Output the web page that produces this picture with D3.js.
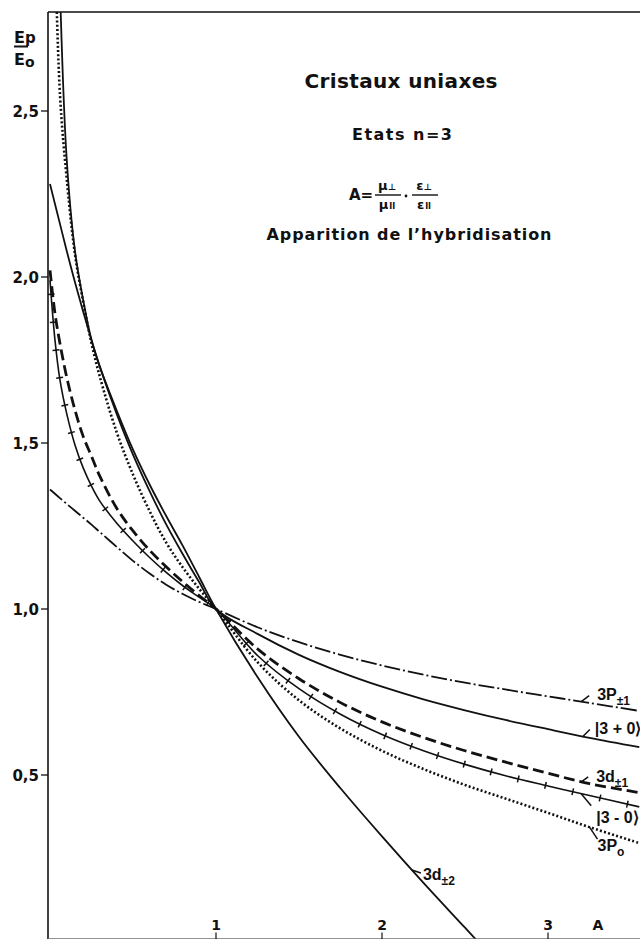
<!DOCTYPE html>
<html><head><meta charset="utf-8">
<script src="https://cdn.jsdelivr.net/npm/d3@7"></script>
<style>body{margin:0;background:#fff} svg{display:block}</style>
</head><body>
<svg id="c" width="640" height="939"></svg>
<script>
// ---- data ----
const aValues = [0, 0.03, 0.06, 0.1, 0.15, 0.2, 0.25, 0.3, 0.4, 0.5, 0.6, 0.7, 0.8, 0.9, 1, 1.25, 1.5, 1.75, 2, 2.25, 2.5, 2.75, 3, 3.25, 3.55];
const p1Values    = [1.36,1.347,1.334,1.317,1.296,1.275,1.254,1.232,1.188,1.145,1.107,1.073,1.045,1.021,1, 0.945,0.9,0.862,0.83,0.802,0.778,0.757,0.737,0.717,0.693];
const plus0Values = [2.28,2.22,2.16,2.08,1.985,1.895,1.81,1.73,1.59,1.465,1.355,1.255,1.165,1.08,1, 0.925,0.862,0.81,0.766,0.728,0.695,0.665,0.638,0.612,0.584];
const d1Values    = [2.02,1.89,1.8,1.7,1.6,1.52,1.46,1.4,1.305,1.235,1.177,1.127,1.082,1.04,1, 0.88,0.79,0.718,0.66,0.613,0.573,0.538,0.505,0.474,0.447];
const minus0Values= [1.99,1.81,1.69,1.59,1.495,1.425,1.37,1.325,1.26,1.205,1.155,1.11,1.07,1.035,1, 0.86,0.76,0.683,0.622,0.573,0.532,0.497,0.467,0.438,0.404];
const p0Values    = [null,3.0,2.55,2.3,2.07,1.925,1.8,1.7,1.535,1.405,1.295,1.2,1.125,1.06,1, 0.84,0.725,0.64,0.573,0.518,0.47,0.428,0.386,0.343,0.295];
const d2Values    = [null,3.6,2.87,2.36,2.08,1.93,1.81,1.73,1.6,1.48,1.375,1.28,1.19,1.095,1, 0.795,0.615,0.46,0.315,0.175,0.04,-0.095,null,null,null];
const yTicks = [0.5, 1.0, 1.5, 2.0, 2.5];
const yTickLabels = ["0,5", "1,0", "1,5", "2,0", "2,5"];
const xTicks = [1, 2, 3];
const xTickLabels = ["1", "2", "3"];

const series = [
  {name:"p1", values:p1Values, style:"dashdot", label:"3P", sub:"±1", at:3.2},
  {name:"plus0", values:plus0Values, style:"solid", label:"|3 + 0⟩", sub:"", at:3.21},
  {name:"d1", values:d1Values, style:"dashed", label:"3d", sub:"±1", at:3.2},
  {name:"minus0", values:minus0Values, style:"ticked", label:"|3 - 0⟩", sub:"", at:3.2},
  {name:"p0", values:p0Values, style:"dotted", label:"3P", sub:"o", at:3.25},
  {name:"d2", values:d2Values, style:"solid", label:"3d", sub:"±2", at:2.18}
];

// ---- layout ----
const W = 640, H = 939;
const x = d3.scaleLinear().domain([0, 1]).range([50, 216]);
const y = d3.scaleLinear().domain([0, 1]).range([941, 609]);
const axisX = 48, topY = 12, botY = 938.5;
const F = "'Liberation Sans', Arial, sans-serif";
const FD = "'DejaVu Sans', sans-serif";

const svg = d3.select("#c");
svg.append("rect").attr("width", W).attr("height", H).attr("fill", "#fff");

svg.append("defs").append("clipPath").attr("id", "plot")
  .append("rect").attr("x", axisX).attr("y", topY).attr("width", W - axisX).attr("height", botY - topY);

// frame lines
svg.append("line").attr("x1", axisX).attr("x2", axisX).attr("y1", topY).attr("y2", H)
  .attr("stroke", "#111").attr("stroke-width", 1.6);
svg.append("line").attr("x1", axisX).attr("x2", W).attr("y1", topY).attr("y2", topY)
  .attr("stroke", "#111").attr("stroke-width", 1.6);
svg.append("line").attr("x1", axisX).attr("x2", W).attr("y1", botY).attr("y2", botY)
  .attr("stroke", "#777").attr("stroke-width", 0.8);

// y ticks
yTicks.forEach((t, i) => {
  svg.append("line").attr("x1", axisX - 7).attr("x2", axisX).attr("y1", y(t)).attr("y2", y(t))
    .attr("stroke", "#111").attr("stroke-width", 1.3);
  svg.append("text").attr("x", axisX - 9).attr("y", y(t) + 5.5).attr("text-anchor", "end")
    .attr("font-family", FD).attr("font-weight", "bold").attr("font-size", 15).attr("fill", "#111")
    .text(yTickLabels[i]);
});
// x ticks
xTicks.forEach((t, i) => {
  svg.append("line").attr("x1", x(t)).attr("x2", x(t)).attr("y1", botY - 6).attr("y2", H)
    .attr("stroke", "#111").attr("stroke-width", 1.2);
  svg.append("text").attr("x", x(t)).attr("y", 930).attr("text-anchor", "middle")
    .attr("font-family", FD).attr("font-weight", "bold").attr("font-size", 14).attr("fill", "#111")
    .text(xTickLabels[i]);
});
svg.append("text").attr("x", 598).attr("y", 930).attr("text-anchor", "middle")
  .attr("font-family", FD).attr("font-weight", "bold").attr("font-size", 14).attr("fill", "#111").text("A");

// y axis title Ep / Eo
const yt = svg.append("g").attr("font-family", FD).attr("font-weight", "bold").attr("fill", "#111");
yt.append("text").attr("x", 14).attr("y", 43).attr("font-size", 16).text("E")
  .append("tspan").attr("font-size", 15).text("p");
yt.append("line").attr("x1", 14).attr("x2", 28).attr("y1", 46.5).attr("y2", 46.5).attr("stroke", "#111").attr("stroke-width", 2);
yt.append("text").attr("x", 14).attr("y", 65).attr("font-size", 16).text("E")
  .append("tspan").attr("font-size", 14).attr("dy", 2).text("o");

// titles
const tg = svg.append("g").attr("font-family", FD).attr("font-weight", "bold").attr("fill", "#111").attr("text-anchor", "middle");
tg.append("text").attr("x", 401).attr("y", 88).attr("font-size", 20)
  .attr("textLength", 193).attr("lengthAdjust", "spacing").text("Cristaux uniaxes");
tg.append("text").attr("x", 402).attr("y", 140).attr("font-size", 16)
  .attr("textLength", 100).attr("lengthAdjust", "spacing").text("Etats n=3");
tg.append("text").attr("x", 409).attr("y", 240).attr("font-size", 16)
  .attr("textLength", 285).attr("lengthAdjust", "spacing").text("Apparition de l’hybridisation");
// formula A = mu_perp/mu_par . eps_perp/eps_par
const fg = svg.append("g").attr("font-family", FD).attr("font-weight", "bold").attr("fill", "#111");
fg.append("text").attr("x", 349).attr("y", 200).attr("font-size", 15).text("A=");
const frac = (cx, sym) => {
  fg.append("text").attr("x", cx - 1).attr("y", 190).attr("font-size", 13).attr("text-anchor", "middle")
    .text(sym).append("tspan").attr("font-size", 9).text("⊥");
  fg.append("line").attr("x1", cx - 13).attr("x2", cx + 13).attr("y1", 195).attr("y2", 195)
    .attr("stroke", "#111").attr("stroke-width", 1.4);
  fg.append("text").attr("x", cx - 1).attr("y", 209).attr("font-size", 13).attr("text-anchor", "middle")
    .text(sym).append("tspan").attr("font-size", 8).attr("dx", 1).text("II");
};
frac(388, "μ");
fg.append("circle").attr("cx", 406).attr("cy", 196).attr("r", 1.4).attr("fill", "#111");
frac(425, "ε");

// curves
const plot = svg.append("g").attr("clip-path", "url(#plot)");
const line = d3.line().defined(d => d[1] !== null).x(d => x(d[0])).y(d => y(d[1]))
  .curve(d3.curveCatmullRom.alpha(0.5));
const styles = {
  solid:   {w: 1.8, dash: null},
  ticked:  {w: 1.6, dash: null},
  dashed:  {w: 2.8, dash: "11,5"},
  dotted:  {w: 2.6, dash: "2,2.2"},
  dashdot: {w: 1.8, dash: "16,3,2,3"}
};
const paths = {};
series.forEach(s => {
  const pts = aValues.map((a, i) => [a, s.values[i]]);
  const st = styles[s.style];
  const p = plot.append("path").attr("d", line(pts)).attr("fill", "none")
    .attr("stroke", "#111").attr("stroke-width", st.w);
  if (st.dash) p.attr("stroke-dasharray", st.dash);
  paths[s.name] = p.node();
  if (s.style === "ticked") {
    const node = p.node(), L = node.getTotalLength();
    for (let l = 14; l < L; l += 28) {
      const c = node.getPointAtLength(l);
      const a = node.getPointAtLength(Math.max(0, l - 1)), b = node.getPointAtLength(Math.min(L, l + 1));
      const dx = b.x - a.x, dy = b.y - a.y, n = Math.hypot(dx, dy) || 1;
      const nx = -dy / n, ny = dx / n;
      plot.append("line").attr("x1", c.x - nx * 3.5).attr("y1", c.y - ny * 3.5)
        .attr("x2", c.x + nx * 3.5).attr("y2", c.y + ny * 3.5)
        .attr("stroke", "#111").attr("stroke-width", 1.5);
    }
  }
});

// point on a rendered path at a given screen x
function pointAtX(node, px) {
  let lo = 0, hi = node.getTotalLength();
  for (let k = 0; k < 40; k++) {
    const mid = (lo + hi) / 2;
    if (node.getPointAtLength(mid).x < px) lo = mid; else hi = mid;
  }
  return node.getPointAtLength((lo + hi) / 2);
}

// curve labels with pointer strokes
const lab = {
  p1:     {pdx: 8,  pdy: -6, tx: 16, ty: -2},
  plus0:  {pdx: 7,  pdy: -7, tx: 12, ty: -2},
  d1:     {pdx: 7,  pdy: -5, tx: 15, ty: 0},
  minus0: {pdx: 10, pdy: 12, tx: 15, ty: 29},
  p0:     {pdx: 8,  pdy: 12, tx: 8,  ty: 24},
  d2:     {pdx: 9,  pdy: 3,  tx: 11, ty: 10}
};
const lg = svg.append("g").attr("font-family", F).attr("font-weight", "bold").attr("fill", "#111");
series.forEach(s => {
  const c = pointAtX(paths[s.name], x(s.at));
  const o = lab[s.name];
  lg.append("line").attr("x1", c.x).attr("y1", c.y).attr("x2", c.x + o.pdx).attr("y2", c.y + o.pdy)
    .attr("stroke", "#111").attr("stroke-width", 1.5);
  const t = lg.append("text").attr("x", c.x + o.tx).attr("y", c.y + o.ty).attr("font-size", 16).text(s.label);
  if (s.sub) t.append("tspan").attr("font-size", 12).attr("dy", 5).text(s.sub);
});
</script>
</body></html>
